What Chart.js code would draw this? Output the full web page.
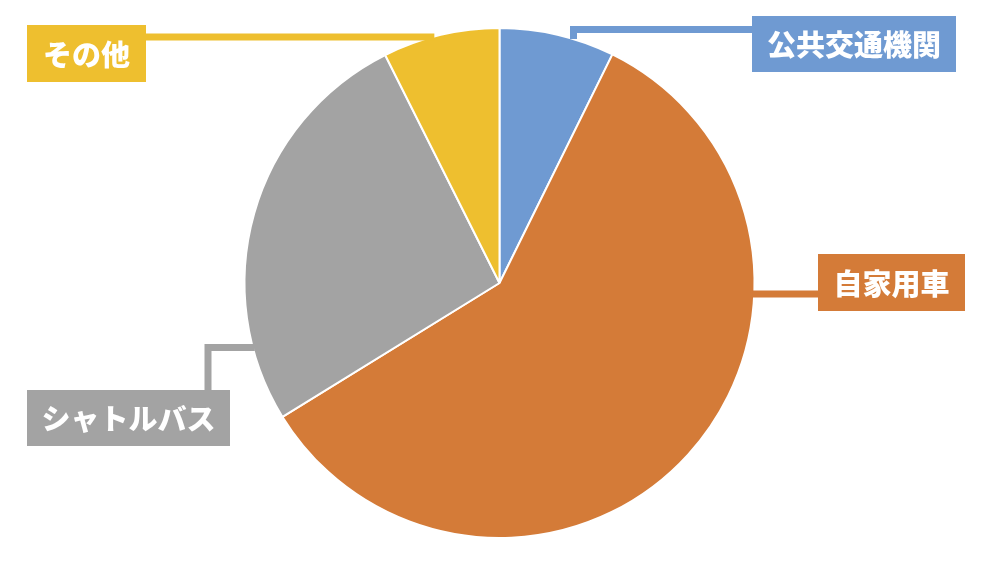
<!DOCTYPE html>
<html>
<head>
<meta charset="utf-8">
<script src="https://cdn.jsdelivr.net/npm/chart.js@4"></script>
<style>
html,body{margin:0;padding:0;background:#fff;}
#wrap{width:1000px;height:565px;position:relative;}
</style>
</head>
<body>
<div id="wrap"><canvas id="c" width="1000" height="565"></canvas></div>
<script>
// ---- data ----
const categories = ["公共交通機関", "自家用車", "シャトルバス", "その他"];
const shares = [7.3, 58.9, 26.4, 7.4];
const sliceColors = ["#6F9AD2", "#D47B38", "#A3A3A3", "#EEBF2F"];

// ---- label layout (boxes + leader elbows) ----
const labelLayout = [
  { box: [752, 16, 204, 56], path: [[752, 29.5], [573.5, 29.5]], dir: "v" },
  { box: [818, 254, 147, 57], path: [[818, 294]], dir: "h" },
  { box: [27, 390, 203, 56], path: [[208, 390], [208, 347.5]], dir: "h" },
  { box: [27, 25, 119, 57], path: [[146, 37]], dir: "h" }
];

const labelPlugin = {
  id: "boxLabels",
  afterDatasetsDraw(chart) {
    const ctx = chart.ctx;
    const meta = chart.getDatasetMeta(0);
    const arc0 = meta.data[0];
    const cx = arc0.x, cy = arc0.y, r = arc0.outerRadius;
    ctx.save();
    labelLayout.forEach((lay, i) => {
      const col = sliceColors[i];
      const pts = lay.path.slice();
      const last = pts[pts.length - 1];
      let end;
      if (lay.dir === "v") {
        const dx = last[0] - cx;
        const h = Math.sqrt(Math.max(r * r - dx * dx, 0));
        end = [last[0], last[1] < cy ? cy - h : cy + h];
      } else {
        const dy = last[1] - cy;
        const w = Math.sqrt(Math.max(r * r - dy * dy, 0));
        end = [last[0] < cx ? cx - w + 2 : cx + w - 2, last[1]];
      }
      pts.push(end);
      ctx.strokeStyle = col;
      ctx.lineWidth = 7;
      ctx.lineJoin = "miter";
      ctx.lineCap = "butt";
      ctx.beginPath();
      ctx.moveTo(pts[0][0], pts[0][1]);
      for (let k = 1; k < pts.length; k++) ctx.lineTo(pts[k][0], pts[k][1]);
      ctx.stroke();
      const [bx, by, bw, bh] = lay.box;
      ctx.fillStyle = col;
      ctx.fillRect(bx, by, bw, bh);
      ctx.fillStyle = "#FFFFFF";
      ctx.font = "900 29px 'Noto Sans CJK JP', 'Noto Sans', sans-serif";
      ctx.textAlign = "center";
      ctx.textBaseline = "middle";
      ctx.fillText(categories[i], bx + bw / 2, by + bh / 2 + 1);
    });
    ctx.restore();
  }
};

new Chart(document.getElementById("c"), {
  type: "pie",
  data: {
    labels: categories,
    datasets: [{
      data: shares,
      backgroundColor: sliceColors,
      borderColor: "#FFFFFF",
      borderWidth: 2
    }]
  },
  options: {
    responsive: false,
    animation: false,
    layout: { padding: { top: 27, bottom: 26, left: 0, right: 1 } },
    plugins: {
      legend: { display: false },
      tooltip: { enabled: false }
    }
  },
  plugins: [labelPlugin]
});
</script>
</body>
</html>
